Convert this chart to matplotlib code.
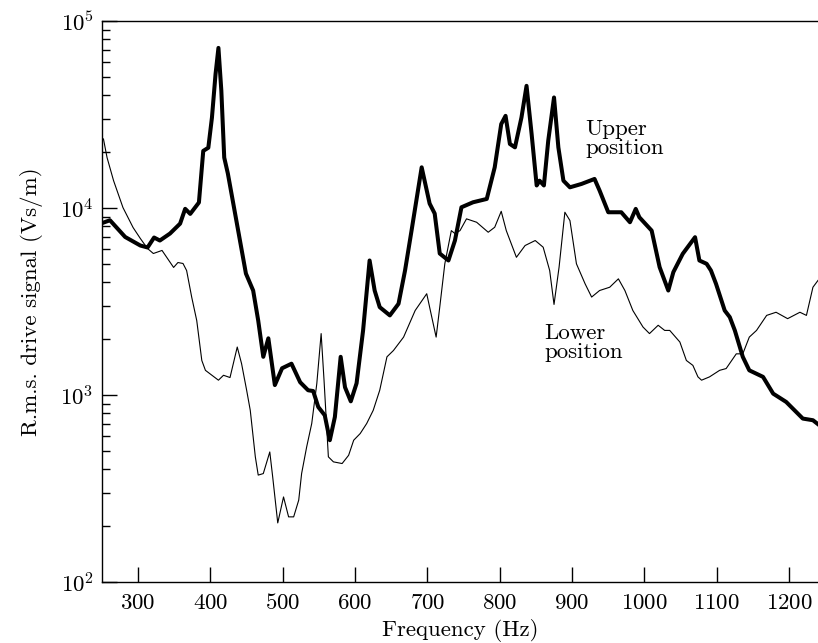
import numpy as np
import matplotlib
matplotlib.use('Agg')
import matplotlib.pyplot as plt
from matplotlib.ticker import LogLocator, FixedLocator, NullLocator

plt.rcParams['font.family'] = 'cmr10'
plt.rcParams['mathtext.fontset'] = 'cm'
plt.rcParams['axes.formatter.use_mathtext'] = True

# upper mounting position (thick trace)
freq_upper = [250, 261, 282, 303, 313, 322, 330, 344, 358, 365, 372, 384, 390, 397,
              402, 407, 411, 415, 419, 424, 435, 449, 459, 466, 473, 480, 489, 499,
              512, 524, 535, 542, 549, 558, 565, 572, 580, 586, 594, 602, 611, 620,
              627, 634, 648, 660, 669, 678, 692, 703, 710, 717, 729, 738, 747, 763,
              782, 793, 802, 808, 814, 821, 830, 837, 844, 851, 855, 861, 867, 875,
              881, 888, 897, 913, 931, 938, 950, 968, 980, 988, 993, 1010, 1021, 1033,
              1040, 1053, 1070, 1076, 1086, 1092, 1099, 1111, 1118, 1125, 1136, 1145,
              1164, 1178, 1196, 1219, 1233, 1240]
rms_upper = [8300, 8600, 7000, 6300, 6150, 6950, 6700, 7300, 8250, 9900, 9300, 10700,
             20200, 21000, 30400, 52000, 71800, 42400, 18600, 15300, 8900, 4460, 3620,
             2500, 1600, 2010, 1130, 1390, 1470, 1170, 1060, 1050, 863, 779, 573, 763,
             1600, 1100, 925, 1155, 2215, 5240, 3620, 2950, 2665, 3075, 4630, 7570,
             16500, 10560, 9340, 5710, 5240, 6700, 10090, 10730, 11180, 16500, 28100,
             31100, 22000, 21100, 30500, 45000, 24900, 13200, 14000, 13200, 22900,
             39000, 21100, 14000, 12900, 13450, 14300, 12400, 9490, 9490, 8390, 9890,
             8920, 7570, 4830, 3620, 4540, 5690, 6980, 5240, 5030, 4630, 3930, 2830,
             2610, 2215, 1600, 1355, 1250, 1017, 918, 748, 733, 698]

# lower mounting position (thin trace)
freq_lower = [252, 257, 266, 279, 293, 303, 313, 321, 333, 349, 355, 362, 367, 374,
              381, 388, 393, 402, 411, 418, 427, 437, 443, 450, 455, 462, 466, 473,
              482, 486, 493, 501, 508, 515, 522, 526, 533, 540, 547, 553, 557, 563,
              570, 582, 591, 598, 607, 616, 625, 634, 644, 653, 667, 683, 699, 704,
              712, 717, 724, 733, 738, 745, 754, 768, 784, 793, 802, 809, 823, 835,
              849, 860, 869, 875, 882, 890, 897, 906, 918, 927, 938, 952, 964, 973,
              984, 998, 1007, 1019, 1028, 1035, 1049, 1058, 1067, 1074, 1079, 1090,
              1104, 1113, 1127, 1136, 1145, 1155, 1169, 1182, 1198, 1215, 1224, 1233,
              1240]
rms_lower = [23400, 18600, 14000, 10050, 7860, 6870, 6070, 5710, 5930, 4810, 5110,
             5050, 4630, 3340, 2500, 1530, 1355, 1275, 1200, 1275, 1240, 1805, 1470,
             1060, 828, 467, 373, 380, 496, 365, 207, 285, 223, 223, 274, 380, 528,
             704, 1150, 2130, 1200, 467, 439, 430, 476, 573, 622, 704, 828, 1060, 1600,
             1730, 2040, 2830, 3480, 2830, 2040, 2950, 5030, 7570, 7300, 7570, 8750,
             8390, 7420, 7890, 9600, 7570, 5450, 6300, 6700, 6170, 4630, 3050, 4830,
             9490, 8570, 5030, 3930, 3340, 3620, 3770, 4180, 3620, 2830, 2310, 2130,
             2360, 2215, 2215, 1920, 1530, 1440, 1250, 1200, 1250, 1355, 1385, 1660,
             1660, 2040, 2215, 2665, 2770, 2560, 2770, 2665, 3770, 4100]

fig = plt.figure(figsize=(8.18, 6.43), dpi=100)
ax = fig.add_axes([102 / 818, 61 / 643, 716 / 818, 561 / 643])

ax.plot(freq_upper, rms_upper, color='black', lw=2.9, solid_joinstyle='round')
ax.plot(freq_lower, rms_lower, color='black', lw=0.8, solid_joinstyle='round')

ax.set_yscale('log')
ax.set_xlim(250, 1240)
ax.set_ylim(1e2, 1e5)

ax.xaxis.set_major_locator(FixedLocator(np.arange(300, 1201, 100)))
ax.xaxis.set_minor_locator(NullLocator())
ax.yaxis.set_major_locator(LogLocator(base=10, numticks=10))
ax.yaxis.set_minor_locator(LogLocator(base=10, subs=np.arange(2, 10), numticks=10))

ax.tick_params(which='both', direction='in', top=False, right=False, labelsize=16.5)
ax.tick_params(axis='x', which='major', length=11, width=1, pad=8)
ax.tick_params(axis='y', which='major', length=11, width=1, pad=6)
ax.tick_params(axis='y', which='minor', length=6, width=1)

ax.spines['right'].set_visible(False)
for s in ('left', 'top', 'bottom'):
    ax.spines[s].set_linewidth(1.0)

ax.set_xlabel('Frequency (Hz)', fontsize=16.5, labelpad=4)
ax.set_ylabel('R.m.s. drive signal (Vs/m)', fontsize=16.5, labelpad=12)

ax.text(918, 23500, 'Upper\nposition', fontsize=16.5, ha='left', va='center',
        linespacing=0.95)
ax.text(862, 1910, 'Lower\nposition', fontsize=16.5, ha='left', va='center',
        linespacing=0.95)

fig.savefig('out.png', dpi=100)
